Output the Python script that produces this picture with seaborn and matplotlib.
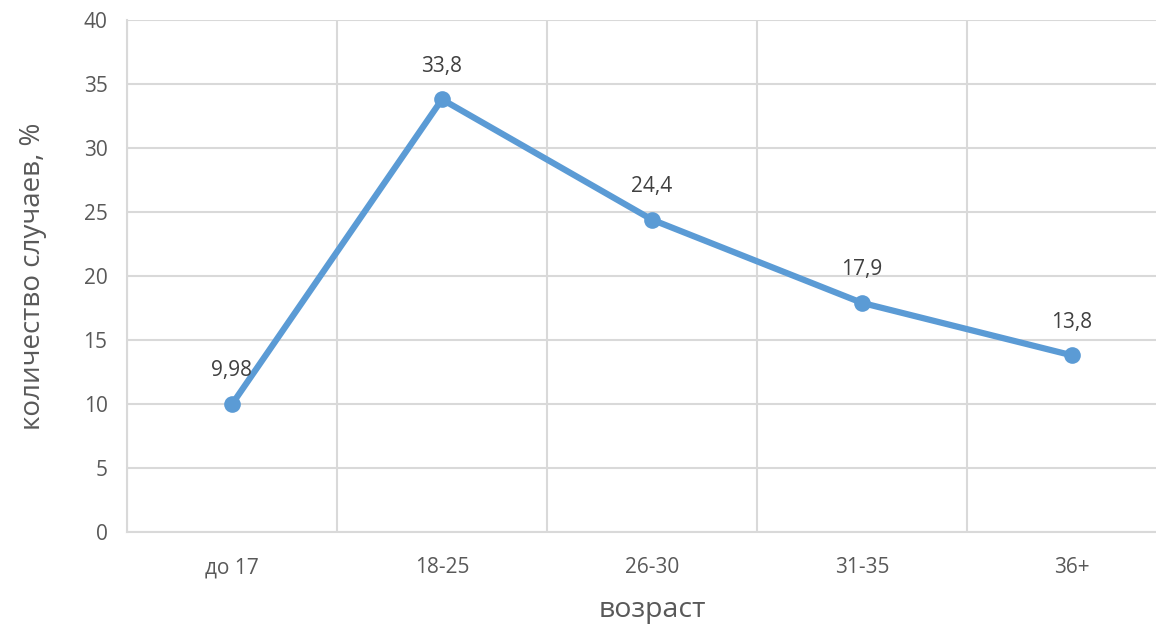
import matplotlib
matplotlib.use("Agg")
import matplotlib.pyplot as plt
import seaborn as sns
import pandas as pd
from matplotlib.ticker import FixedLocator

ages = ["до 17", "18-25", "26-30", "31-35", "36+"]
share = [9.98, 33.8, 24.4, 17.9, 13.8]
labels = ["9,98", "33,8", "24,4", "17,9", "13,8"]

sns.set_style("white")
plt.rcParams['font.family'] = ['Open Sans', 'DejaVu Sans']

df = pd.DataFrame({"age": ages, "share": share})
df["pos"] = range(len(ages))

W, H = 1156, 627
fig = plt.figure(figsize=(W / 100, H / 100), dpi=100)
ax = fig.add_axes([127 / W, (H - 532) / H, 1050 / W, 512 / H])

grey = "#595959"
grid = "#d9d9d9"

sns.lineplot(data=df, x="pos", y="share", ax=ax, color="#5b9bd5", linewidth=4.5,
             marker="o", markersize=12, markeredgewidth=0, zorder=3)

for x, y, t in zip(df["pos"], df["share"], labels):
    ax.annotate(t, (x, y), xytext=(0, 24), textcoords="offset points",
                ha="center", va="center", fontsize=15, color="#404040")

ax.set_xlim(-0.5, len(ages) - 0.5)
ax.set_ylim(0, 40)
ax.set_yticks(range(0, 41, 5))
ax.set_xticks(df["pos"])
ax.set_xticklabels(ages)
ax.xaxis.set_minor_locator(FixedLocator([i + 0.5 for i in range(-1, len(ages))]))
ax.grid(axis="y", which="major", color=grid, linewidth=1.5)
ax.grid(axis="x", which="minor", color=grid, linewidth=1.5)
ax.grid(axis="x", which="major", visible=False)
ax.set_axisbelow(True)
for s in ["top", "right"]:
    ax.spines[s].set_visible(False)
ax.spines["left"].set_color(grid)
ax.spines["left"].set_linewidth(1.5)
ax.spines["bottom"].set_color(grid)
ax.spines["bottom"].set_linewidth(1.5)
ax.tick_params(axis="both", which="both", length=0, labelsize=15, colors=grey)
ax.tick_params(axis="x", pad=18)
ax.tick_params(axis="y", pad=14)

ax.set_xlabel("возраст", fontsize=20.5, color=grey)
ax.set_ylabel("количество случаев, %", fontsize=20, color=grey)
ax.xaxis.set_label_coords(0.5, (532 - 610) / 512)
ax.yaxis.set_label_coords((33 - 127) / 1050, 0.5)
ax.xaxis.label.set_va("center")
ax.yaxis.label.set_va("center")

fig.savefig("out.png", dpi=100)
